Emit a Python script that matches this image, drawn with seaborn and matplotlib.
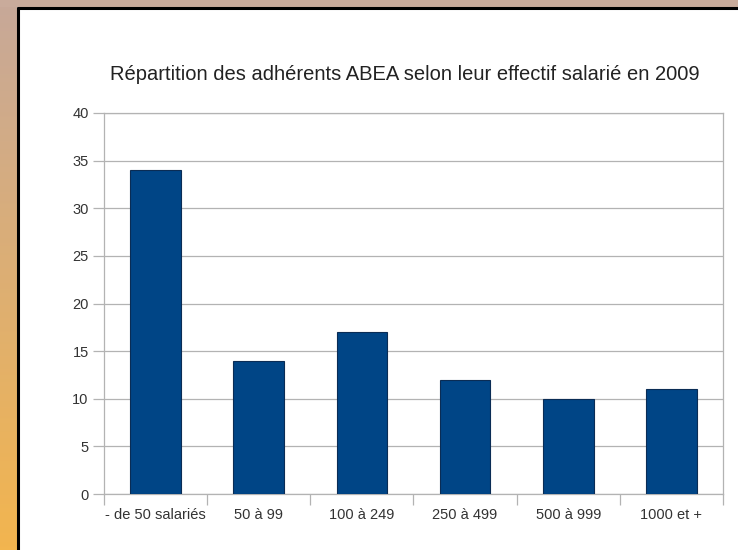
import numpy as np
import pandas as pd
import matplotlib
matplotlib.use('Agg')
import matplotlib.pyplot as plt
import seaborn as sns

# data
categories = ['- de 50 salariés', '50 à 99', '100 à 249', '250 à 499', '500 à 999', '1000 et +']
adherents = [34, 14, 17, 12, 10, 11]
y_ticks = [0, 5, 10, 15, 20, 25, 30, 35, 40]

sns.set_theme(style='white')
plt.rcParams['font.family'] = ['Liberation Sans', 'DejaVu Sans']

W, H = 738, 550
fig = plt.figure(figsize=(W / 100, H / 100), dpi=100)
fig.patch.set_facecolor('white')

# decorative frame: gradient strip on the left, tan strip on top, black border
bg = fig.add_axes([0, 0, 1, 1], zorder=-5)
bg.set_xlim(0, W)
bg.set_ylim(H, 0)
bg.axis('off')
grad = np.linspace(0, 1, 256)[:, None]
top_c = np.array([0.78, 0.66, 0.60])
bot_c = np.array([0.95, 0.71, 0.31])
strip = top_c[None, None, :] * (1 - grad[:, :, None]) + bot_c[None, None, :] * grad[:, :, None]
bg.imshow(strip, extent=[0, 17, H, 0], aspect='auto')
bg.add_patch(plt.Rectangle((0, 0), W, 7, color='#c9ab9b', lw=0))
bg.plot([18, 18], [8, H], color='black', lw=2.2)
bg.plot([18, W], [8, 8], color='black', lw=2.2)

df = pd.DataFrame({'cat': categories, 'val': adherents})

ax = fig.add_axes([104 / W, 1 - 494 / H, (723 - 104) / W, (494 - 113) / H])
sns.barplot(data=df, x='cat', y='val', color='#004586', width=0.49,
            edgecolor='#0a2c55', linewidth=0.8, saturation=1, ax=ax, zorder=3)

ax.set_ylim(0, 40)
ax.set_xlim(-0.5, len(categories) - 0.5)
ax.set_yticks(y_ticks)
ax.set_xlabel('')
ax.set_ylabel('')
ax.yaxis.grid(True, color='#b3b3b3', lw=0.9, zorder=0)
ax.set_axisbelow(True)
for s in ax.spines.values():
    s.set_color('#b3b3b3')
    s.set_linewidth(0.9)

# y ticks outside, category separators below the axis
ax.tick_params(axis='y', direction='out', length=8, width=0.9, color='#b3b3b3',
               labelsize=10.5, labelcolor='#333333', pad=3, left=True)
ax.set_xticks(range(len(categories)))
ax.set_xticklabels(categories)
ax.tick_params(axis='x', length=0, labelsize=10.5, labelcolor='#333333', pad=10)
ax.set_xticks(np.arange(-0.5, len(categories)), minor=True)
ax.tick_params(axis='x', which='minor', direction='out', length=8, width=0.9,
               color='#b3b3b3', bottom=True)

fig.text(405 / W, 1 - 75 / H, 'Répartition des adhérents ABEA selon leur effectif salarié en 2009',
         ha='center', va='center', fontsize=14.5, color='#222222')

fig.savefig('out.png', dpi=100)
